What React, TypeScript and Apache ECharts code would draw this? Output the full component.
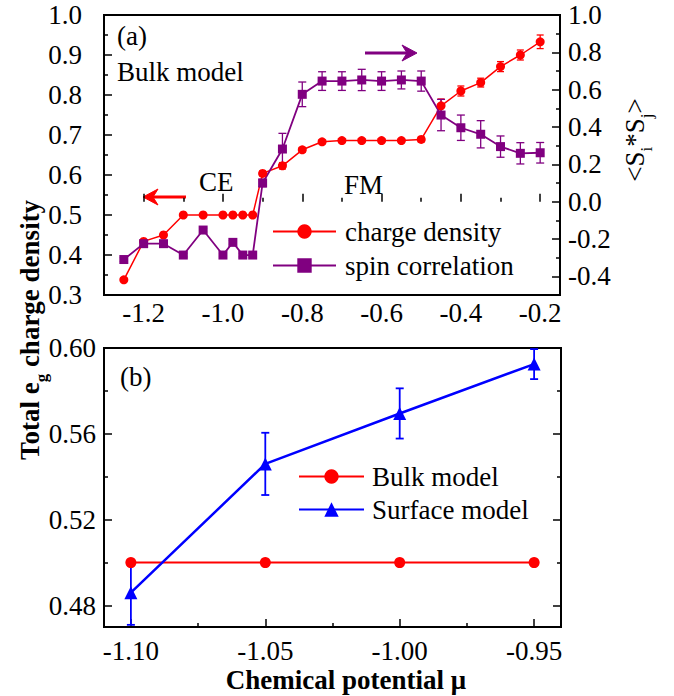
import React, { useEffect, useRef } from 'react';
import * as echarts from 'echarts';

// ---------- data (panel a) ----------
const muTop = [-1.25, -1.2, -1.15, -1.1, -1.05, -1.0, -0.975, -0.95, -0.925, -0.9, -0.85, -0.8, -0.75, -0.7, -0.65, -0.6, -0.55, -0.5, -0.45, -0.4, -0.35, -0.3, -0.25, -0.2];
const chargeDensity = [0.338, 0.434, 0.45, 0.5, 0.5, 0.5, 0.5, 0.5, 0.5, 0.604, 0.623, 0.663, 0.683, 0.686, 0.686, 0.686, 0.686, 0.689, 0.773, 0.81, 0.831, 0.871, 0.9, 0.933];
const chargeErr = [0.004, 0.004, 0.004, 0.003, 0.003, 0.003, 0.003, 0.003, 0.003, 0.006, 0.008, 0.006, 0.005, 0.005, 0.005, 0.005, 0.005, 0.006, 0.017, 0.0125, 0.011, 0.0125, 0.0125, 0.017];
const spinCorrelation = [-0.31, -0.225, -0.225, -0.286, -0.152, -0.286, -0.218, -0.286, -0.286, 0.1, 0.282, 0.575, 0.646, 0.646, 0.652, 0.646, 0.652, 0.646, 0.464, 0.396, 0.361, 0.295, 0.259, 0.262];
const spinErr = [0.01, 0.01, 0.01, 0.01, 0.01, 0.01, 0.01, 0.01, 0.01, 0.02, 0.084, 0.066, 0.05, 0.05, 0.057, 0.05, 0.048, 0.054, 0.084, 0.068, 0.073, 0.057, 0.057, 0.055];

// ---------- data (panel b) ----------
const muBottom = [-1.1, -1.05, -1.0, -0.95];
const bulkModel = [0.5, 0.5, 0.5, 0.5];
const bulkErr = [0.0012, 0.0012, 0.0012, 0.0012];
const surfaceModel = [0.486, 0.546, 0.5695, 0.5925];
const surfaceErr = [0.015, 0.0145, 0.0117, 0.007];

// ---------- tick values ----------
const topXMajor = [-1.2, -1.0, -0.8, -0.6, -0.4, -0.2];
const topXMinor = [-1.1, -0.9, -0.7, -0.5, -0.3];
const rightYMajor = [-0.4, -0.2, 0, 0.2, 0.4, 0.6, 0.8, 1.0];
const rightYMinor = [-0.3, -0.1, 0.1, 0.3, 0.5, 0.7, 0.9];
const botXMajor = [-1.1, -1.05, -1.0, -0.95];
const botXMinor = [-1.075, -1.025, -0.975];
const botYMajor = [0.48, 0.52, 0.56, 0.6];
const botYMinor = [0.5, 0.54, 0.58];

const FONT = '"Liberation Serif", "Times New Roman", serif';
const RED = '#ff0000';
const PURPLE = '#800080';
const BLUE = '#0000ff';

const errorBar = (color: string, lw: number, cap: number) => (params: any, api: any) => {
  const x = api.value(0);
  const y = api.value(1);
  const e = api.value(2);
  const p1 = api.coord([x, y + e]);
  const p2 = api.coord([x, y - e]);
  const st = { stroke: color, lineWidth: lw };
  return {
    type: 'group',
    children: [
      { type: 'line', shape: { x1: p1[0], y1: p1[1], x2: p2[0], y2: p2[1] }, style: st },
      { type: 'line', shape: { x1: p1[0] - cap, y1: p1[1], x2: p1[0] + cap, y2: p1[1] }, style: st },
      { type: 'line', shape: { x1: p2[0] - cap, y1: p2[1], x2: p2[0] + cap, y2: p2[1] }, style: st },
    ],
  };
};

const labelStyle = { fontSize: 27, fontFamily: FONT, color: '#000' };
const tickLine = { color: '#000', width: 1.5 };

export default function App() {
  const ref = useRef<HTMLDivElement>(null);
  useEffect(() => {
    if (!ref.current) return;
    const chart = echarts.init(ref.current, undefined, { renderer: 'svg' });
    const option: any = {
      animation: false,
      backgroundColor: '#fff',
      grid: [
        { left: 104, top: 15, width: 456, height: 280, show: true, borderColor: '#000', borderWidth: 2, backgroundColor: 'transparent' },
        { left: 104, top: 348, width: 457, height: 279, show: true, borderColor: '#000', borderWidth: 2, backgroundColor: 'transparent' },
      ],
      xAxis: [
        {
          gridIndex: 0, type: 'value', min: -1.3, max: -0.15, position: 'bottom',
          axisLine: { show: false }, splitLine: { show: false },
          axisTick: { inside: true, length: 8, lineStyle: tickLine, customValues: topXMajor },
          axisLabel: { ...labelStyle, margin: 4, customValues: topXMajor, formatter: (v: number) => v.toFixed(1) },
        },
        {
          gridIndex: 0, type: 'value', min: -1.3, max: -0.15, position: 'bottom',
          axisLine: { show: false }, splitLine: { show: false },
          axisTick: { inside: true, length: 4, lineStyle: tickLine, customValues: topXMinor },
          axisLabel: { show: false },
        },
        {
          gridIndex: 1, type: 'value', min: -1.11, max: -0.94, position: 'bottom',
          axisLine: { show: false }, splitLine: { show: false },
          axisTick: { inside: true, length: 8, lineStyle: tickLine, customValues: botXMajor },
          axisLabel: { ...labelStyle, margin: 10, customValues: botXMajor, formatter: (v: number) => v.toFixed(2) },
        },
        {
          gridIndex: 1, type: 'value', min: -1.11, max: -0.94, position: 'bottom',
          axisLine: { show: false }, splitLine: { show: false },
          axisTick: { inside: true, length: 4, lineStyle: tickLine, customValues: botXMinor },
          axisLabel: { show: false },
        },
      ],
      yAxis: [
        {
          gridIndex: 0, type: 'value', min: 0.3, max: 1.0, interval: 0.1, position: 'left',
          axisLine: { show: false }, splitLine: { show: false },
          axisTick: { inside: true, length: 8, lineStyle: tickLine },
          minorTick: { show: true, splitNumber: 2, length: 4, lineStyle: tickLine },
          axisLabel: { ...labelStyle, margin: 22, formatter: (v: number) => v.toFixed(1) },
        },
        {
          gridIndex: 0, type: 'value', min: -0.5, max: 1.0, position: 'right',
          axisLine: { show: false }, splitLine: { show: false },
          axisTick: { inside: true, length: 8, lineStyle: tickLine, customValues: rightYMajor },
          axisLabel: { ...labelStyle, margin: 8, customValues: rightYMajor, formatter: (v: number) => v.toFixed(1) },
        },
        {
          gridIndex: 0, type: 'value', min: -0.5, max: 1.0, position: 'right',
          axisLine: { show: false }, splitLine: { show: false },
          axisTick: { inside: true, length: 4, lineStyle: tickLine, customValues: rightYMinor },
          axisLabel: { show: false },
        },
        {
          gridIndex: 1, type: 'value', min: 0.47, max: 0.6, position: 'left',
          axisLine: { show: false }, splitLine: { show: false },
          axisTick: { inside: true, length: 8, lineStyle: tickLine, customValues: botYMajor },
          axisLabel: { ...labelStyle, margin: 8, customValues: botYMajor, formatter: (v: number) => v.toFixed(2) },
        },
        {
          gridIndex: 1, type: 'value', min: 0.47, max: 0.6, position: 'left',
          axisLine: { show: false }, splitLine: { show: false },
          axisTick: { inside: true, length: 4, lineStyle: tickLine, customValues: botYMinor },
          axisLabel: { show: false },
        },
        {
          gridIndex: 1, type: 'value', min: 0.47, max: 0.6, position: 'right',
          axisLine: { show: false }, splitLine: { show: false },
          axisTick: { inside: true, length: 8, lineStyle: tickLine, customValues: botYMajor },
          axisLabel: { show: false },
        },
        {
          gridIndex: 1, type: 'value', min: 0.47, max: 0.6, position: 'right',
          axisLine: { show: false }, splitLine: { show: false },
          axisTick: { inside: true, length: 4, lineStyle: tickLine, customValues: botYMinor },
          axisLabel: { show: false },
        },
      ],
      legend: [
        {
          data: ['charge density', 'spin correlation'], orient: 'vertical', left: 272, top: 218,
          itemWidth: 63, itemHeight: 18, itemGap: 7, padding: 0,
          textStyle: { fontSize: 27, fontFamily: FONT, color: '#000', padding: [0, 0, 0, 4] },
        },
        {
          data: ['Bulk model', 'Surface model'], orient: 'vertical', left: 298, top: 463,
          itemWidth: 65, itemHeight: 18, itemGap: 6, padding: 0,
          textStyle: { fontSize: 27, fontFamily: FONT, color: '#000', padding: [0, 0, 0, 3] },
        },
      ],
      series: [
        {
          type: 'custom', name: 'charge err', xAxisIndex: 0, yAxisIndex: 0, z: 1, silent: true, clip: true,
          renderItem: errorBar(RED, 1.3, 3.5), encode: { x: 0, y: 1 },
          data: muTop.map((x, i) => [x, chargeDensity[i], chargeErr[i]]),
        },
        {
          type: 'custom', name: 'spin err', xAxisIndex: 0, yAxisIndex: 1, z: 1, silent: true, clip: true,
          renderItem: errorBar(PURPLE, 1.3, 4), encode: { x: 0, y: 1 },
          data: muTop.map((x, i) => [x, spinCorrelation[i], spinErr[i]]),
        },
        {
          type: 'line', name: 'charge density', xAxisIndex: 0, yAxisIndex: 0,
          symbol: 'circle', symbolSize: 9, color: RED,
          lineStyle: { color: RED, width: 1.5 }, itemStyle: { color: RED },
          data: muTop.map((x, i) => [x, chargeDensity[i]]),
        },
        {
          type: 'line', name: 'spin correlation', xAxisIndex: 0, yAxisIndex: 1,
          symbol: 'rect', symbolSize: 9, color: PURPLE,
          lineStyle: { color: PURPLE, width: 1.8 }, itemStyle: { color: PURPLE },
          data: muTop.map((x, i) => [x, spinCorrelation[i]]),
        },
        {
          type: 'custom', name: 'bulk err', xAxisIndex: 2, yAxisIndex: 3, z: 1, silent: true, clip: true,
          renderItem: errorBar(RED, 1.5, 4), encode: { x: 0, y: 1 },
          data: muBottom.map((x, i) => [x, bulkModel[i], bulkErr[i]]),
        },
        {
          type: 'custom', name: 'surface err', xAxisIndex: 2, yAxisIndex: 3, z: 1, silent: true, clip: true,
          renderItem: errorBar(BLUE, 1.8, 4), encode: { x: 0, y: 1 },
          data: muBottom.map((x, i) => [x, surfaceModel[i], surfaceErr[i]]),
        },
        {
          type: 'line', name: 'Bulk model', xAxisIndex: 2, yAxisIndex: 3,
          symbol: 'circle', symbolSize: 11, color: RED,
          lineStyle: { color: RED, width: 2 }, itemStyle: { color: RED },
          data: muBottom.map((x, i) => [x, bulkModel[i]]),
        },
        {
          type: 'line', name: 'Surface model', xAxisIndex: 2, yAxisIndex: 3,
          symbol: 'triangle', symbolSize: 13, color: BLUE,
          lineStyle: { color: BLUE, width: 2.5 }, itemStyle: { color: BLUE },
          data: muBottom.map((x, i) => [x, surfaceModel[i]]),
        },
      ],
      graphic: [
        { type: 'text', x: 117, y: 36, style: { text: '(a)', fontSize: 27, fontFamily: FONT, fill: '#000', verticalAlign: 'middle' } },
        { type: 'text', x: 117, y: 72, style: { text: 'Bulk model', fontSize: 27, fontFamily: FONT, fill: '#000', verticalAlign: 'middle' } },
        { type: 'text', x: 199, y: 182, style: { text: 'CE', fontSize: 27, fontFamily: FONT, fill: '#000', verticalAlign: 'middle' } },
        { type: 'text', x: 344, y: 185, style: { text: 'FM', fontSize: 27, fontFamily: FONT, fill: '#000', verticalAlign: 'middle' } },
        { type: 'text', x: 120, y: 377, style: { text: '(b)', fontSize: 27, fontFamily: FONT, fill: '#000', verticalAlign: 'middle' } },
        // arrows
        { type: 'line', shape: { x1: 186, y1: 197, x2: 152, y2: 197 }, style: { stroke: RED, lineWidth: 3 } },
        { type: 'polygon', shape: { points: [[143, 197], [158, 189], [153, 197], [158, 205]] }, style: { fill: RED, stroke: RED, lineWidth: 1 } },
        { type: 'line', shape: { x1: 365, y1: 53, x2: 408, y2: 53 }, style: { stroke: PURPLE, lineWidth: 3 } },
        { type: 'polygon', shape: { points: [[417, 53], [402, 45], [407, 53], [402, 61]] }, style: { fill: PURPLE, stroke: PURPLE, lineWidth: 1 } },
        // left axis name
        {
          type: 'text', x: 30, y: 330, rotation: Math.PI / 2,
          style: {
            text: 'Total e{sub|g} charge density', fontSize: 27, fontWeight: 'bold', fontFamily: FONT, fill: '#000',
            align: 'center', verticalAlign: 'middle', lineHeight: 30,
            rich: { sub: { fontSize: 17, fontWeight: 'bold', fontFamily: FONT, fill: '#000', verticalAlign: 'bottom', lineHeight: 40 } },
          },
        },
        // right axis name
        {
          type: 'text', x: 635, y: 140, rotation: Math.PI / 2,
          style: {
            text: '<S{sub|i}*S{sub|j}>', fontSize: 27, fontFamily: FONT, fill: '#000',
            align: 'center', verticalAlign: 'middle', lineHeight: 30,
            rich: { sub: { fontSize: 17, fontFamily: FONT, fill: '#000', verticalAlign: 'bottom', lineHeight: 40 } },
          },
        },
        // bottom axis name
        {
          type: 'text', x: 346, y: 680,
          style: { text: 'Chemical potential μ', fontSize: 27, fontWeight: 'bold', fontFamily: FONT, fill: '#000', align: 'center', verticalAlign: 'middle' },
        },
      ],
    };
    chart.setOption(option);
    return () => chart.dispose();
  }, []);
  return <div ref={ref} style={{ position: 'absolute', left: 0, top: 0, width: 674, height: 696 }} />;
}
